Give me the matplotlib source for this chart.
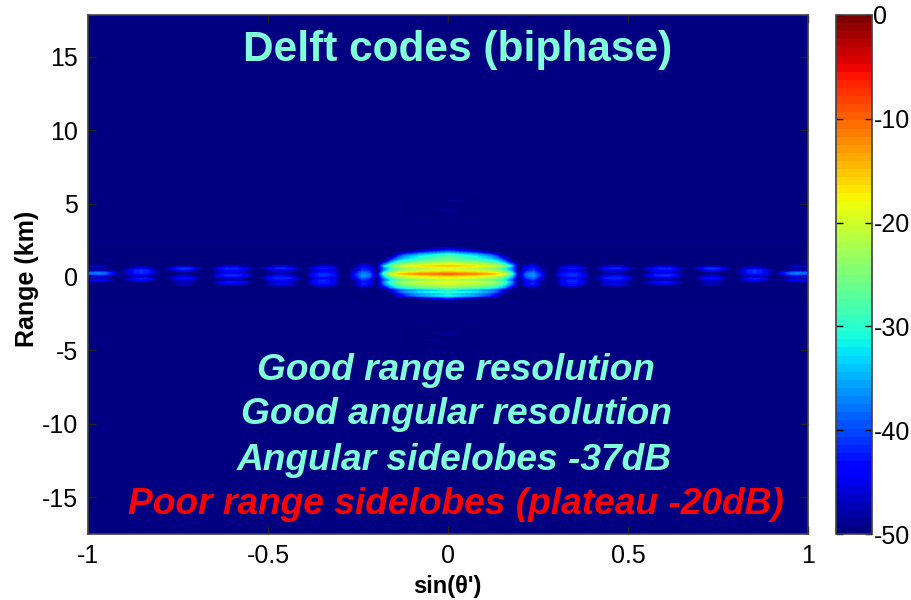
import numpy as np
import matplotlib
matplotlib.use('Agg')
import matplotlib.pyplot as plt

plt.rcParams['font.family'] = ['Liberation Sans', 'DejaVu Sans']
plt.rcParams['axes.unicode_minus'] = False

W, H = 912, 600
AX = (88, 808, 15, 534)      # left, right, top, bottom px
CB = (836, 872, 15, 534)
KM_PX = 14.67
ZERO_PX = 277
ylim = ((ZERO_PX - AX[3]) / KM_PX, (ZERO_PX - AX[2]) / KM_PX)

# range rows, expressed in reference pixel rows (step 2 px)
row_px = list(range(248, 302, 2))
main_profile = [-46, -42, -36, -30, -27, -27, -25, -22, -19, -14, -20, -19, -14, -9,
                -15, -18, -22, -18, -20, -22, -24, -32, -28, -32, -30, -40, -47]
# how much faster the outer main-lobe rows fall off in angle
main_narrow = [3, 3, 3, 2.6, 2.2, 1.8, 1.5, 1.3, 1.1, 1, 1, 1, 1, 1,
               1, 1, 1, 1, 1, 1.1, 1.3, 1.5, 1.8, 2.2, 2.6, 3, 3]
# sidelobe profiles for rows 262..290 px
L1 = [-50, -47, -43, -42, -41, -38, -36, -36, -38, -41, -43, -41, -44, -48, -50]
L2 = [-50, -49, -46, -42, -45, -43, -41, -41, -45, -42, -42, -43, -46, -49, -50]
L3 = [-50, -49, -47, -41, -45, -47, -48, -43, -41, -43, -47, -43, -48, -50, -50]
L4 = [-50, -49, -47, -41, -43, -46, -42, -41, -46, -48, -42, -45, -49, -50, -50]
L5 = [-50, -50, -48, -40, -43, -48, -49, -46, -42, -45, -48, -46, -49, -50, -50]
L6 = [-50, -50, -48, -45, -41, -41, -42, -48, -42, -43, -48, -49, -50, -50, -50]
L7 = [-50, -50, -46, -48, -49, -38, -37, -44, -48, -42, -48, -50, -50, -50, -50]
side_profiles = [main_profile, L1, L2, L3, L4, L5, L6, L7]
pad = [(262 - 248) // 2, (300 - 290) // 2]

# columns on sin(theta) = 0, 0.02, ... 1.0
side_env = [0, -0.5, -1, -1.5, -2, -3, -4, -6, -10, -18,
            -12, -2, 0, -6, -14, -8, -2, 0, 0, -3, -12, -6, -1, 0, 0, -2, -7, -12,
            -4, -1, 0, 0, -2, -7, -14, -6, -1, 0, -1, -5, -14, -6, -1, 0, -1, -5,
            -12, -6, -1, 0, -1]
side_idx = [0] * 10 + [1] * 4 + [2] * 6 + [3] * 7 + [4] * 7 + [5] * 6 + [6] * 6 + [7] * 5

# faint range lobes near centre, px rows and sin(theta) columns
faint_sin = [-0.12, -0.08, -0.04, 0.0, 0.04, 0.08]
faint_px = [196, 200, 204, 208, 212, 216]
faint_top = [[-50, -50, -50, -50, -50, -50],
             [-50, -50, -50, -49, -49, -50],
             [-50, -50, -50, -50, -50, -50],
             [-50, -50, -50, -50, -50, -50],
             [-50, -50, -49, -48, -49, -50],
             [-50, -50, -50, -50, -50, -50]]
faint2_px = [328, 332, 336, 340, 344, 348]
faint_bot = [[-50, -50, -50, -50, -50, -50],
             [-50, -50, -49, -48, -49, -50],
             [-50, -50, -50, -50, -50, -50],
             [-50, -49, -49, -50, -50, -50],
             [-50, -50, -49, -49, -50, -50],
             [-50, -50, -50, -50, -50, -50]]

title_text = 'Delft codes (biphase)'
cyan_lines = ['Good range resolution', 'Good angular resolution', 'Angular sidelobes -37dB']
red_line = 'Poor range sidelobes (plateau -20dB)'
x_ticks = [-1, -0.5, 0, 0.5, 1]
x_labels = ['-1', '-0.5', '0', '0.5', '1']
y_ticks = [-15, -10, -5, 0, 5, 10, 15]
cb_ticks = [-50, -40, -30, -20, -10, 0]

# assemble matrix
half = np.empty((len(row_px), len(side_env)))
for c, (e, i) in enumerate(zip(side_env, side_idx)):
    if i > 0:
        half[:, c] = np.pad(np.array(side_profiles[i], float), pad, constant_values=-50.0) + e
    else:
        half[:, c] = np.array(main_profile, float) + e * np.array(main_narrow)
M = np.hstack([half[:, :0:-1], half])
M = np.clip(M, -50, 0)

cmap = plt.get_cmap('jet', 64)
fig = plt.figure(figsize=(W / 100, H / 100), dpi=100)

def rect(b):
    l, r, t, bt = b
    return [l / W, 1 - bt / H, (r - l) / W, (bt - t) / H]

ax = fig.add_axes(rect(AX))
ax.set_facecolor(cmap(0))

def km(px):
    return (ZERO_PX - px) / KM_PX

kw = dict(cmap=cmap, vmin=-50, vmax=0, aspect='auto', origin='upper',
          interpolation='bilinear', interpolation_stage='data')
im = ax.imshow(M, extent=(-1.0, 1.0, km(row_px[-1] + 1), km(row_px[0] - 1)), **kw)
ax.imshow(np.array(faint_top), extent=(faint_sin[0], faint_sin[-1], km(faint_px[-1]), km(faint_px[0])), **kw)
ax.imshow(np.array(faint_bot), extent=(faint_sin[0], faint_sin[-1], km(faint2_px[-1]), km(faint2_px[0])), **kw)
ax.set_xlim(-1, 1)
ax.set_ylim(*ylim)
ax.set_xticks(x_ticks, x_labels)
ax.set_yticks(y_ticks)
ax.tick_params(direction='in', length=6, width=1.0, labelsize=18, color='#222222', pad=7, top=True, right=True)
for s in ax.spines.values():
    s.set_linewidth(1.2)
    s.set_color('#404040')

def put(px, py, s, **k):
    ax.text((px - AX[0]) / (AX[1] - AX[0]), 1 - (py - AX[2]) / (AX[3] - AX[2]), s,
            transform=ax.transAxes, ha='center', va='center', fontweight='bold', **k)

aqua = '#80FFD8'
put(458, 50, title_text, fontsize=30.5, color=aqua)
for py, px, s in zip([371, 415, 460], [456, 456, 454], cyan_lines):
    put(px, py, s, fontsize=26.7, color=aqua, style='italic')
put(456, 505, red_line, fontsize=26.7, color='#FF0000', style='italic')

fig.text(447 / W, 1 - 586 / H, "sin(θ')", fontsize=17, fontweight='bold', ha='center', va='center')
fig.text(27 / W, 1 - 279 / H, 'Range (km)', fontsize=18, fontweight='bold', ha='center', va='center', rotation=90)

cax = fig.add_axes(rect(CB))
cb = fig.colorbar(im, cax=cax)
cb.set_ticks(cb_ticks)
cb.ax.tick_params(direction='in', length=5, width=1.0, labelsize=18, pad=1, left=True, right=True)
cb.outline.set_linewidth(1.2)
cb.outline.set_edgecolor('#404040')

fig.savefig('out.png', dpi=100)
